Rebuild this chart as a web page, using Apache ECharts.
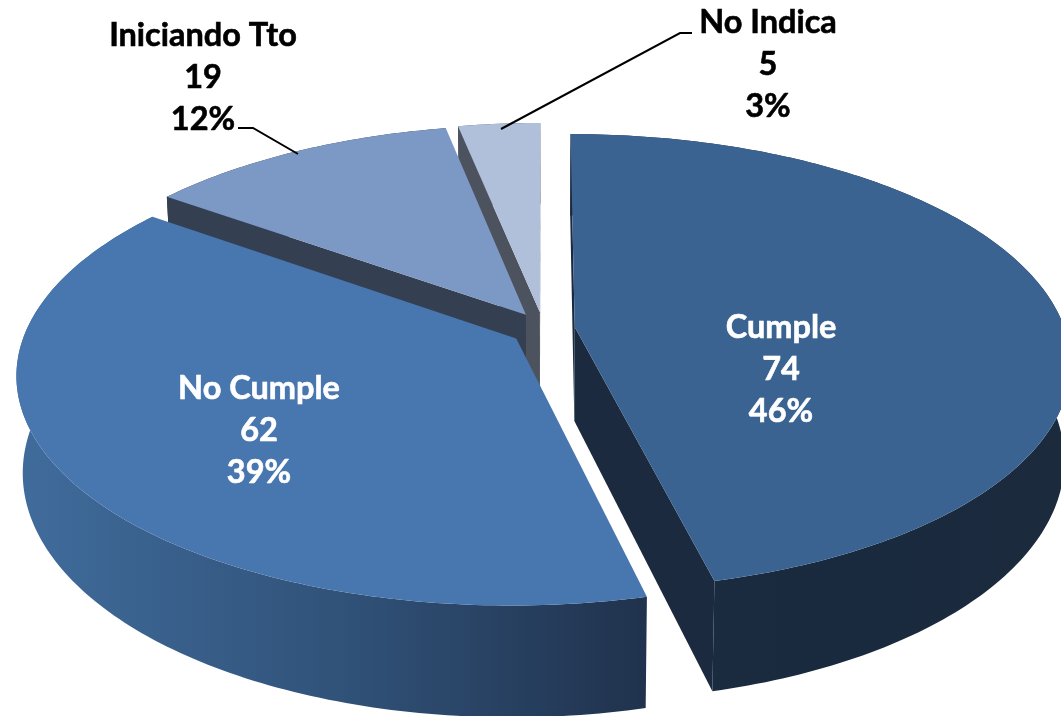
<!DOCTYPE html>
<html>
<head>
<meta charset="utf-8">
<style>html,body{margin:0;padding:0;background:#fff}#c{width:1061px;height:716px}</style>
<script src="https://cdn.jsdelivr.net/npm/echarts@6/dist/echarts.min.js"></script>
</head>
<body>
<div id="c"></div>
<script>
// ---- data ----
const categories = ['Cumple', 'No Cumple', 'Iniciando Tto', 'No Indica'];
const values = [74, 62, 19, 5];

// ---- styles ----
const topColors = ['#3b6392', '#4876ae', '#7c98c4', '#b1c0da'];
const cutColors = ['#1b2a3e', '#253a58', '#353f52', '#4c525e'];
const wallStops = [
  ['#1b2b41', '#1a2a3e', '#1b2a3d'],
  ['#406c9c', '#31537a', '#20324d'],
  ['#353f52', '#353f52', '#353f52'],
  ['#4c525e', '#4c525e', '#4c525e']
];
const labelColors = ['#ffffff', '#ffffff', '#000000', '#000000'];
const labelCenters = [[781, 328], [259, 389], [203, 36], [768, 23]];
const leaderLines = [null, null, [[238, 128], [253, 128], [298, 154]], [[692, 33], [680, 33], [501, 129]]];
const drawOrder = [3, 2, 1, 0];

// ---- view ----
const view = { cx: 543, cy: 329, rx: 490, ry: 223, k: 0.153, depth: 94, shrink: 0.012, exU: 0.0653, exV: 0.076 };
const total = values.reduce((a, b) => a + b, 0);

function project(u, v, z) {
  const f = 1 / (1 - view.k * v);
  return [
    view.cx + view.rx * u * f * (1 - view.shrink * z),
    view.cy + view.ry * v * f + view.depth * z * f
  ];
}
function sliceAngles(i) {
  let before = 0;
  for (let j = 0; j < i; j++) before += values[j];
  return [before / total * 2 * Math.PI, (before + values[i]) / total * 2 * Math.PI];
}
function cross(a, b, c) {
  return (b[0] - a[0]) * (c[1] - a[1]) - (b[1] - a[1]) * (c[0] - a[0]);
}

function renderSlice(params, api) {
  const i = drawOrder[params.dataIndex];
  const val = api.value(0);
  const [a0, a1] = sliceAngles(i);
  const mid = (a0 + a1) / 2;
  const u0 = view.exU * Math.sin(mid), v0 = -view.exV * Math.cos(mid);
  const rim = (a, z) => project(u0 + Math.sin(a), v0 - Math.cos(a), z);
  const apex = z => project(u0, v0, z);

  const steps = Math.max(8, Math.ceil((a1 - a0) * 60));
  const topArc = [], botArc = [];
  for (let s = 0; s <= steps; s++) {
    const a = a0 + (a1 - a0) * s / steps;
    topArc.push(rim(a, 0));
    botArc.push(rim(a, 1));
  }
  const children = [];

  // outer wall
  const stops = wallStops[i];
  children.push({
    type: 'polygon',
    shape: { points: topArc.concat(botArc.slice().reverse()) },
    style: {
      fill: new echarts.graphic.LinearGradient(0, 0, 1, 0, [
        { offset: 0, color: stops[0] },
        { offset: 0.5, color: stops[1] },
        { offset: 1, color: stops[2] }
      ])
    }
  });
  // cut walls, only those turned towards the viewer
  const startQuad = [apex(0), rim(a0, 0), rim(a0, 1), apex(1)];
  const endQuad = [apex(0), rim(a1, 0), rim(a1, 1), apex(1)];
  if (cross(startQuad[0], startQuad[1], startQuad[2]) < 0) {
    children.push({ type: 'polygon', shape: { points: startQuad }, style: { fill: cutColors[i] } });
  }
  if (cross(endQuad[0], endQuad[1], endQuad[2]) > 0) {
    children.push({ type: 'polygon', shape: { points: endQuad }, style: { fill: cutColors[i] } });
  }
  // top face
  children.push({
    type: 'polygon',
    shape: { points: [apex(0)].concat(topArc) },
    style: { fill: topColors[i] }
  });
  // leader line
  if (leaderLines[i]) {
    children.push({
      type: 'polyline',
      shape: { points: leaderLines[i] },
      style: { stroke: '#000', lineWidth: 2, fill: null }
    });
  }
  // label: name / value / percent
  const lines = [categories[i], String(val), Math.round(val / total * 100) + '%'];
  lines.forEach((t, n) => {
    children.push({
      type: 'text',
      style: {
        text: t,
        x: labelCenters[i][0],
        y: labelCenters[i][1] + n * 42,
        fill: labelColors[i],
        stroke: labelColors[i],
        lineWidth: 0.6,
        font: 'bold 32.5px Lato, Carlito, sans-serif',
        textAlign: 'center',
        textVerticalAlign: 'middle'
      }
    });
  });
  return { type: 'group', children };
}

const chart = echarts.init(document.getElementById('c'), null, { renderer: 'canvas' });
chart.setOption({
  animation: false,
  backgroundColor: '#ffffff',
  series: [{
    type: 'custom',
    coordinateSystem: 'none',
    renderItem: renderSlice,
    data: drawOrder.map(i => ({ name: categories[i], value: [values[i]] }))
  }]
});
</script>
</body>
</html>
